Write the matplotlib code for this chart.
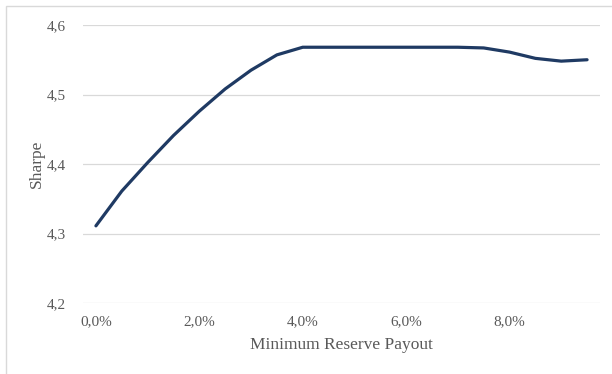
#!/usr/bin/env python3

import matplotlib
matplotlib.use("Agg")
import matplotlib.pyplot as plt
from matplotlib.patches import Rectangle
import numpy as np

# Minimum reserve payout (%) and resulting Sharpe ratio
payout_pct = [0.0, 0.5, 1.0, 1.5, 2.0, 2.5, 3.0, 3.5, 4.0, 4.5,
              5.0, 5.5, 6.0, 6.5, 7.0, 7.5, 8.0, 8.5, 9.0, 9.5]
sharpe = [4.311, 4.361, 4.402, 4.441, 4.476, 4.508, 4.535, 4.557, 4.568, 4.568,
          4.568, 4.568, 4.568, 4.568, 4.568, 4.567, 4.561, 4.552, 4.548, 4.550]

x_ticks = [0.0, 2.0, 4.0, 6.0, 8.0]
x_tick_labels = ["0,0%", "2,0%", "4,0%", "6,0%", "8,0%"]
y_ticks = [4.2, 4.3, 4.4, 4.5, 4.6]
y_tick_labels = ["4,2", "4,3", "4,4", "4,5", "4,6"]

plt.rcParams.update({
    "font.family": ["Liberation Serif", "DejaVu Serif"],
    "text.color": "#595959",
    "axes.labelcolor": "#595959",
    "xtick.color": "#595959",
    "ytick.color": "#595959",
})

W, H = 612, 374
fig = plt.figure(figsize=(W / 100, H / 100), dpi=100, facecolor="white")

# outer chart frame (only the left and top edges fall inside the canvas)
fig.patches.append(Rectangle((5.5 / W, -0.1), 1.2, 1.1 - 6.5 / H,
                             transform=fig.transFigure, fill=False,
                             edgecolor="#d9d9d9", linewidth=1.0))

left, right, top, bottom = 83, 600, 25, 303
ax = fig.add_axes([left / W, 1 - bottom / H, (right - left) / W, (bottom - top) / H])

ax.plot(payout_pct, sharpe, color="#1f3a63", linewidth=2.3,
        solid_capstyle="round", solid_joinstyle="round", zorder=3)

ax.set_xlim(-0.25, 9.75)
ax.set_ylim(4.2, 4.6)
ax.set_xticks(x_ticks)
ax.set_xticklabels(x_tick_labels, fontsize=11)
ax.set_yticks(y_ticks)
ax.set_yticklabels(y_tick_labels, fontsize=11)
ax.tick_params(axis="both", length=0)
ax.tick_params(axis="x", pad=9)
ax.tick_params(axis="y", pad=12)

ax.grid(axis="y", color="#d9d9d9", linewidth=0.9, zorder=0)
for spine in ax.spines.values():
    spine.set_visible(False)

ax.set_xlabel("Minimum Reserve Payout", fontsize=12.5, labelpad=6)
ax.set_ylabel("Sharpe", fontsize=12.5, labelpad=2)

fig.savefig("out.png", dpi=100, facecolor="white")
plt.close(fig)
